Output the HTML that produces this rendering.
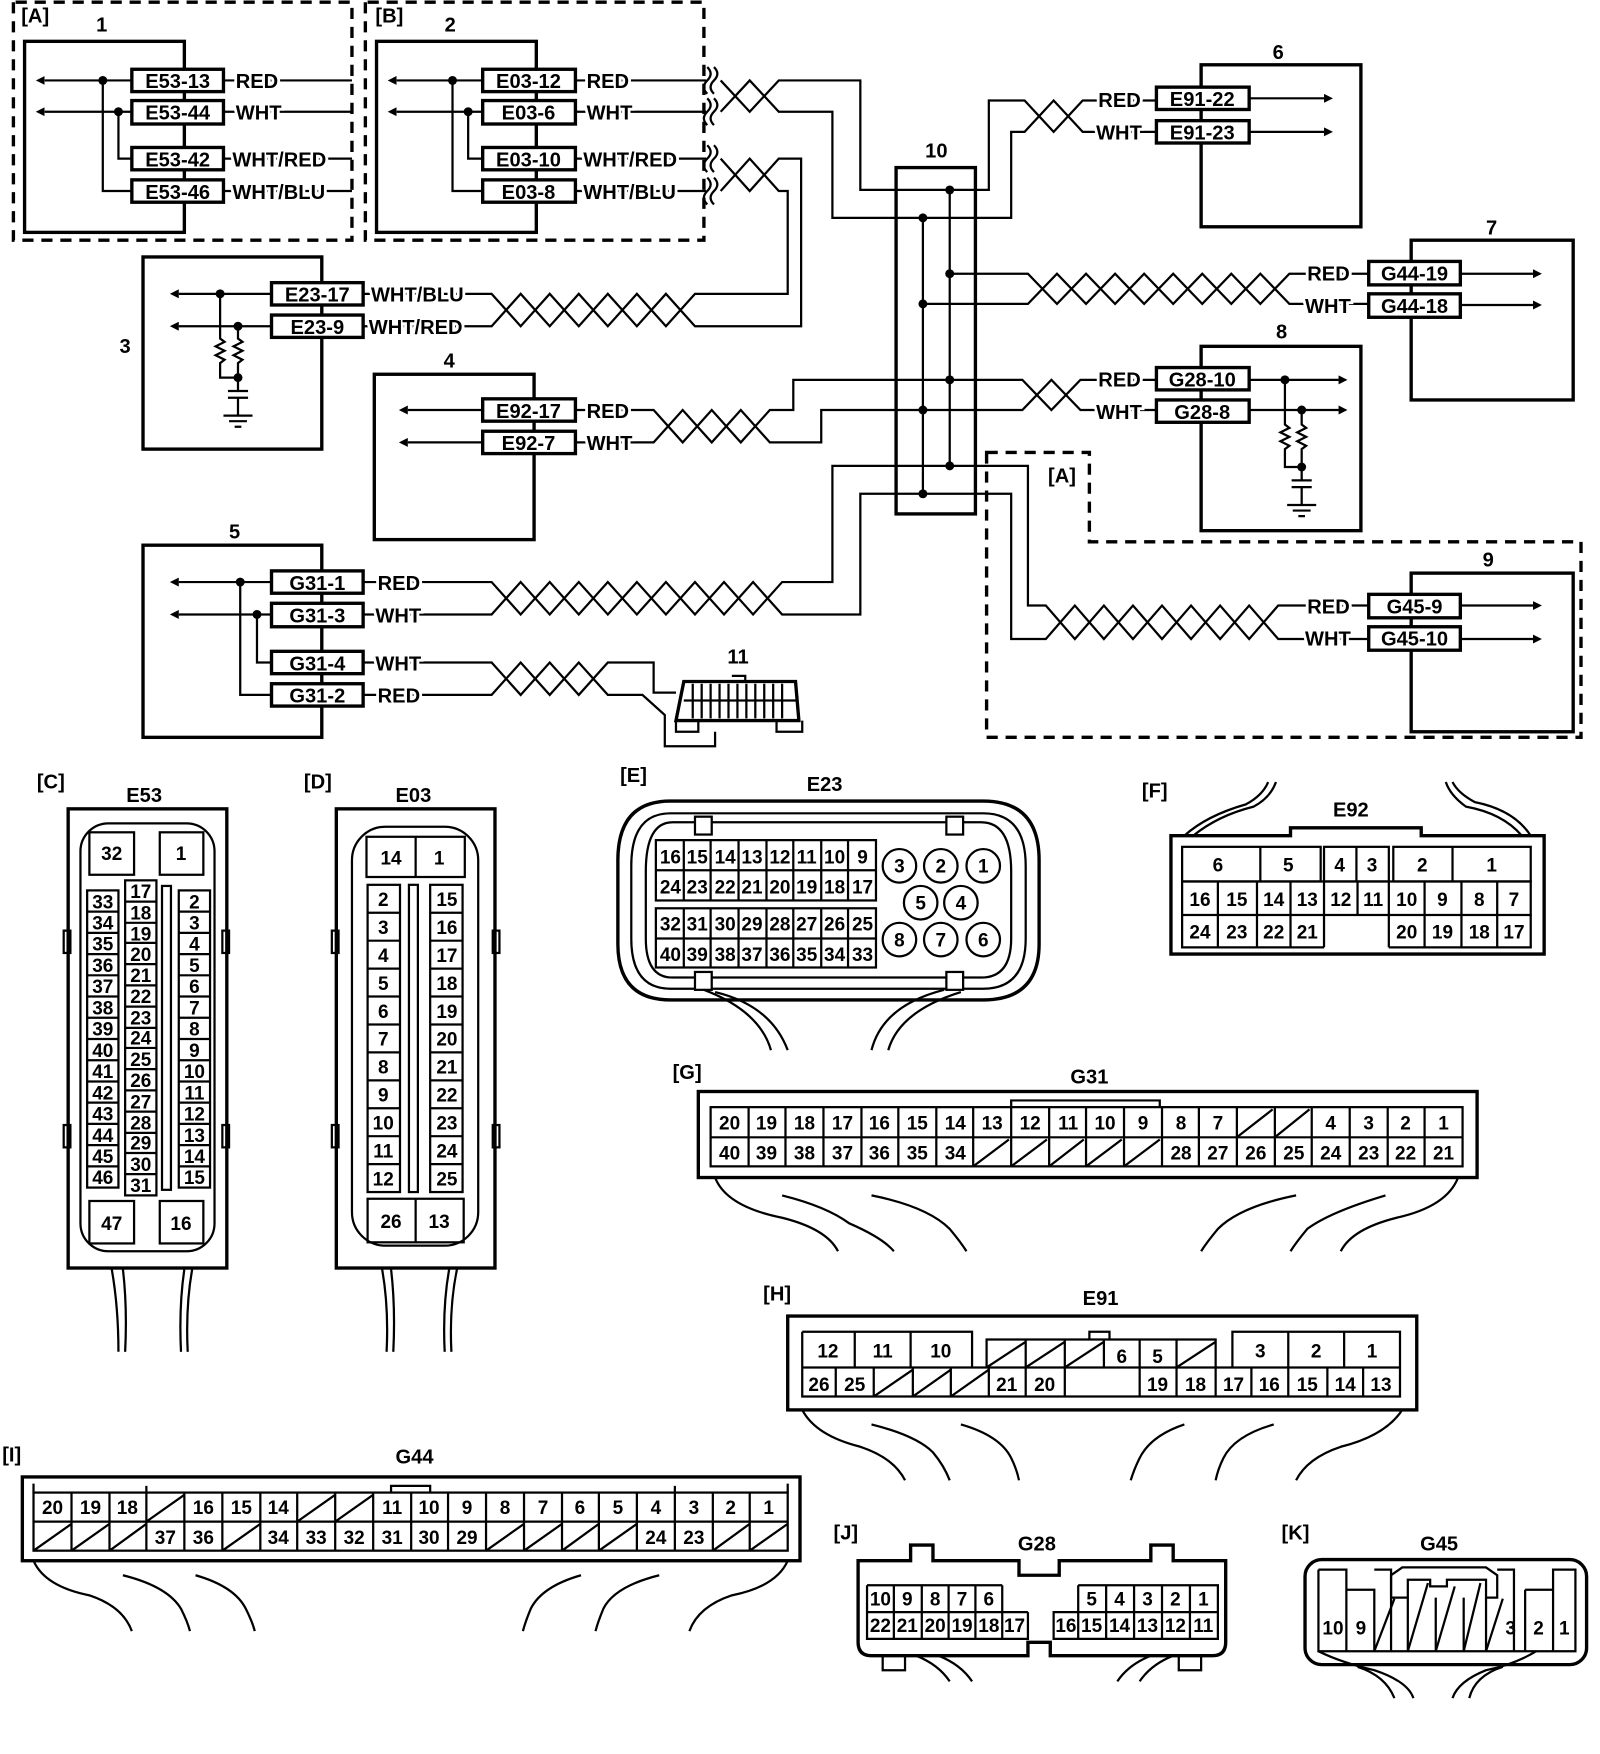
<!DOCTYPE html>
<html><head><meta charset="utf-8"><style>
html,body{margin:0;padding:0;background:#fff}
svg{display:block}
text{font-family:"Liberation Sans",sans-serif;font-weight:bold;fill:#000}
.w{stroke:#fff;stroke-width:5;paint-order:stroke}
</style></head><body>
<svg width="1600" height="1754" viewBox="0 0 1432 1570" preserveAspectRatio="none" xmlns="http://www.w3.org/2000/svg">
<defs>
<marker id="ar" viewBox="0 0 10 10" refX="0" refY="5" markerWidth="4" markerHeight="4" orient="auto-start-reverse"><path d="M0,0 L10,5 L0,10z"/></marker>
</defs>
<g fill="none" stroke="#000" stroke-width="2">
<!-- dashed groups -->
<path d="M12,2 V215 H315 V2 H12" stroke-width="3" stroke-dasharray="10,7"/>
<path d="M327,2 V215 H630 V2 H327" stroke-width="3" stroke-dasharray="10,7"/>
<path d="M883,405 H975 V485 H1415 V660 H883 Z" stroke-width="3" stroke-dasharray="10,7"/>
<!-- boxes -->
<rect x="22" y="37" width="143" height="171" stroke-width="3"/>
<rect x="337" y="37" width="143" height="171" stroke-width="3"/>
<rect x="128" y="230" width="160" height="172" stroke-width="3"/>
<rect x="335" y="335" width="143" height="148" stroke-width="3"/>
<rect x="128" y="488" width="160" height="172" stroke-width="3"/>
<rect x="802" y="150" width="71" height="310" stroke-width="3"/>
<rect x="1075" y="58" width="143" height="145" stroke-width="3"/>
<rect x="1263" y="215" width="145" height="143" stroke-width="3"/>
<rect x="1075" y="310" width="143" height="165" stroke-width="3"/>
<rect x="1263" y="513" width="145" height="142" stroke-width="3"/>
<!-- box1 internals -->
<path d="M118,72 H40" marker-end="url(#ar)"/><path d="M118,100 H40" marker-end="url(#ar)"/>
<path d="M92,72 V171 H118 M106,100 V142 H118"/>
<path d="M200,72 H315 M200,100 H315 M200,142 H315 M200,171 H315"/>
<!-- box2 internals -->
<path d="M432,72 H355" marker-end="url(#ar)"/><path d="M432,100 H355" marker-end="url(#ar)"/>
<path d="M405,72 V171 H432 M419,100 V142 H432"/>
<path d="M515,72 H632 M515,100 H632 M515,142 H632 M515,171 H632"/>
<path d="M633,60 q6,6 0,12 q-6,6 0,12 M639,60 q6,6 0,12 q-6,6 0,12 M633,88 q6,6 0,12 q-6,6 0,12 M639,88 q6,6 0,12 q-6,6 0,12 M633,130 q6,6 0,12 q-6,6 0,12 M639,130 q6,6 0,12 q-6,6 0,12 M633,159 q6,6 0,12 q-6,6 0,12 M639,159 q6,6 0,12 q-6,6 0,12"/>
<polyline points="645,72 671,100 697,72 770,72 770,170 873,170 885,170 885,90 917,90 943,118 969,90 1035,90"/>
<polyline points="645,100 671,72 697,100 745,100 745,195 873,195 905,195 905,118 917,118 943,90 969,118 1035,118"/>
<polyline points="645,142 671,171 697,142 717,142 717,292 622,292 596,263 570,292 544,263 518,292 492,263 466,292 440,263 325,263"/>
<polyline points="645,171 671,142 697,171 705,171 705,263 622,263 596,292 570,263 544,292 518,263 492,292 466,263 440,292 325,292"/>
<!-- box3 internals -->
<path d="M243,263 H160" marker-end="url(#ar)"/><path d="M243,292 H160" marker-end="url(#ar)"/>
<path d="M197,263 V303 l4,3 -8,4 8,4 -8,4 8,4 -4,3 V338 H213 M213,292 V303 l4,3 -8,4 8,4 -8,4 8,4 -4,3 V350 M204,350 H222 M204,356 H222 M213,356 V372 M200,372 H226 M205,377 H221 M210,382 H216"/>
<!-- box4 -->
<path d="M432,367 H365" marker-end="url(#ar)"/><path d="M432,396 H365" marker-end="url(#ar)"/>
<polyline points="515,367 585,367 611,396 637,367 663,396 689,367 710,367 710,340 873,340 915,340 941,367 967,340 1035,340"/>
<polyline points="515,396 585,396 611,367 637,396 663,367 689,396 735,396 735,367 873,367 915,367 941,340 967,367 1035,367"/>
<!-- box5 -->
<path d="M243,521 H160" marker-end="url(#ar)"/><path d="M243,550 H160" marker-end="url(#ar)"/>
<path d="M215,521 V622 H243 M230,550 V593 H243"/>
<polyline points="325,521 440,521 466,550 492,521 518,550 544,521 570,550 596,521 622,550 648,521 674,550 700,521 745,521 745,417 873,417 920,417 920,542 936,542 962,572 988,542 1014,572 1040,542 1066,572 1092,542 1118,572 1144,542 1225,542"/>
<polyline points="325,550 440,550 466,521 492,550 518,521 544,550 570,521 596,550 622,521 648,550 674,521 700,550 770,550 770,442 873,442 905,442 905,572 936,572 962,542 988,572 1014,542 1040,572 1066,542 1092,572 1118,542 1144,572 1225,572"/>
<polyline points="325,593 440,593 466,622 492,593 518,622 544,593 585,593 585,620 605,620"/>
<polyline points="325,622 440,622 466,593 492,622 518,593 544,622 575,622 595,640 595,668 640,668 640,655"/>
<!-- box10 bus -->
<path d="M850,170 V417 M826,195 V442"/>
<polyline points="873,245 920,245 946,272 972,245 998,272 1024,245 1050,272 1076,245 1102,272 1128,245 1154,272 1225,272"/>
<polyline points="873,272 920,272 946,245 972,272 998,245 1024,272 1050,245 1076,272 1102,245 1128,272 1154,245 1225,245"/>
<path d="M826,272 H873 M850,245 H873"/>
<!-- right arrows -->
<path d="M1118,88 H1185" marker-end="url(#ar)"/><path d="M1118,118 H1185" marker-end="url(#ar)"/>
<path d="M1307,245 H1372" marker-end="url(#ar)"/><path d="M1307,273 H1372" marker-end="url(#ar)"/>
<path d="M1118,340 H1198" marker-end="url(#ar)"/><path d="M1118,367 H1198" marker-end="url(#ar)"/>
<path d="M1307,542 H1372" marker-end="url(#ar)"/><path d="M1307,572 H1372" marker-end="url(#ar)"/>
<path d="M1150,340 V380 l4,3 -8,4 8,4 -8,4 8,4 -4,3 V418 H1165 M1165,367 V380 l4,3 -8,4 8,4 -8,4 8,4 -4,3 V430 M1156,430 H1174 M1156,436 H1174 M1165,436 V452 M1152,452 H1178 M1157,457 H1173 M1162,462 H1168"/>
<!-- connector 11 -->
<path d="M612,610 H712 L715,645 H605 Z" stroke-width="3"/>
<path d="M620,612 V643 M628,612 V643 M636,612 V643 M644,612 V643 M652,612 V643 M660,612 V643 M668,612 V643 M676,612 V643 M684,612 V643 M692,612 V643 M700,612 V643 M612,627 H712 M655,605 H667 V610 M605,645 V655 H625 V645 M695,645 V655 H718 V645"/>
</g>
<!-- dots -->
<g>
<circle cx="92" cy="72" r="4"/><circle cx="106" cy="100" r="4"/>
<circle cx="405" cy="72" r="4"/><circle cx="419" cy="100" r="4"/>
<circle cx="197" cy="263" r="4"/><circle cx="213" cy="292" r="4"/><circle cx="213" cy="338" r="4"/>
<circle cx="215" cy="521" r="4"/><circle cx="230" cy="550" r="4"/>
<circle cx="850" cy="170" r="4"/><circle cx="826" cy="195" r="4"/><circle cx="850" cy="245" r="4"/><circle cx="826" cy="272" r="4"/>
<circle cx="850" cy="340" r="4"/><circle cx="826" cy="367" r="4"/><circle cx="850" cy="417" r="4"/><circle cx="826" cy="442" r="4"/>
<circle cx="1150" cy="340" r="4"/><circle cx="1165" cy="367" r="4"/><circle cx="1165" cy="418" r="4"/>
</g>
<!-- connector label boxes -->
<g fill="#fff" stroke="#000" stroke-width="3">
<rect x="118" y="62" width="82" height="20"/><rect x="118" y="90" width="82" height="21"/><rect x="118" y="132" width="82" height="20"/><rect x="118" y="161" width="82" height="20"/>
<rect x="432" y="62" width="83" height="20"/><rect x="432" y="90" width="83" height="21"/><rect x="432" y="132" width="83" height="20"/><rect x="432" y="161" width="83" height="20"/>
<rect x="243" y="253" width="82" height="20"/><rect x="243" y="282" width="82" height="20"/>
<rect x="432" y="357" width="83" height="20"/><rect x="432" y="386" width="83" height="20"/>
<rect x="243" y="511" width="82" height="20"/><rect x="243" y="540" width="82" height="21"/><rect x="243" y="583" width="82" height="20"/><rect x="243" y="612" width="82" height="20"/>
<rect x="1035" y="78" width="83" height="20"/><rect x="1035" y="108" width="83" height="20"/>
<rect x="1225" y="234" width="82" height="21"/><rect x="1225" y="263" width="82" height="21"/>
<rect x="1035" y="329" width="83" height="20"/><rect x="1035" y="358" width="83" height="20"/>
<rect x="1225" y="532" width="82" height="21"/><rect x="1225" y="561" width="82" height="21"/>
</g>
<g font-size="18" text-anchor="middle">
<text x="159" y="79">E53-13</text><text x="159" y="107">E53-44</text><text x="159" y="149">E53-42</text><text x="159" y="178">E53-46</text>
<text x="473" y="79">E03-12</text><text x="473" y="107">E03-6</text><text x="473" y="149">E03-10</text><text x="473" y="178">E03-8</text>
<text x="284" y="270">E23-17</text><text x="284" y="299">E23-9</text>
<text x="473" y="374">E92-17</text><text x="473" y="403">E92-7</text>
<text x="284" y="528">G31-1</text><text x="284" y="557">G31-3</text><text x="284" y="600">G31-4</text><text x="284" y="629">G31-2</text>
<text x="1076" y="95">E91-22</text><text x="1076" y="125">E91-23</text>
<text x="1266" y="251">G44-19</text><text x="1266" y="280">G44-18</text>
<text x="1076" y="346">G28-10</text><text x="1076" y="375">G28-8</text>
<text x="1266" y="549">G45-9</text><text x="1266" y="578">G45-10</text>
</g>
<g font-size="18" class="w">
<text x="211" y="79" class="w">RED</text><text x="211" y="107" class="w">WHT</text><text x="208" y="149" class="w">WHT/RED</text><text x="208" y="178" class="w">WHT/BLU</text>
<text x="525" y="79" class="w">RED</text><text x="525" y="107" class="w">WHT</text><text x="522" y="149" class="w">WHT/RED</text><text x="522" y="178" class="w">WHT/BLU</text>
<text x="332" y="270" class="w">WHT/BLU</text><text x="330" y="299" class="w">WHT/RED</text>
<text x="525" y="374" class="w">RED</text><text x="525" y="403" class="w">WHT</text>
<text x="338" y="528" class="w">RED</text><text x="336" y="557" class="w">WHT</text><text x="336" y="600" class="w">WHT</text><text x="338" y="629" class="w">RED</text>
<text x="983" y="96" class="w">RED</text><text x="981" y="125" class="w">WHT</text>
<text x="1170" y="251" class="w">RED</text><text x="1168" y="280" class="w">WHT</text>
<text x="983" y="346" class="w">RED</text><text x="981" y="375" class="w">WHT</text>
<text x="1170" y="549" class="w">RED</text><text x="1168" y="578" class="w">WHT</text>
</g>
<g font-size="18">
<text x="19" y="20">[A]</text><text x="86" y="28">1</text>
<text x="336" y="20">[B]</text><text x="398" y="28">2</text>
<text x="107" y="316">3</text><text x="397" y="329">4</text><text x="205" y="482">5</text>
<text x="1139" y="53">6</text><text x="1330" y="210">7</text><text x="1142" y="303">8</text><text x="1327" y="507">9</text>
<text x="828" y="141">10</text><text x="651" y="594">11</text>
<text x="938" y="432">[A]</text>
</g>

<!-- ======= lower connectors ======= -->
<g font-size="18">
<text x="33" y="706">[C]</text><text x="113" y="718">E53</text>
<text x="272" y="706">[D]</text><text x="354" y="718">E03</text>
<text x="555" y="700">[E]</text><text x="722" y="708">E23</text>
<text x="1022" y="714">[F]</text><text x="1193" y="731">E92</text>
<text x="602" y="966">[G]</text><text x="958" y="970">G31</text>
<text x="683" y="1164">[H]</text><text x="969" y="1168">E91</text>
<text x="2" y="1308">[I]</text><text x="354" y="1310">G44</text>
<text x="746" y="1378">[J]</text><text x="911" y="1388">G28</text>
<text x="1147" y="1378">[K]</text><text x="1271" y="1388">G45</text>
</g>
<g fill="none" stroke="#000" stroke-width="2">
<!-- E53 -->
<rect x="61" y="724" width="142" height="411" stroke-width="3"/>
<rect x="72" y="737" width="120" height="383" rx="25"/>
<rect x="80" y="745" width="40" height="38"/><rect x="143" y="745" width="39" height="38"/>
<rect x="80" y="1075" width="40" height="38"/><rect x="143" y="1075" width="39" height="38"/>
<rect x="57" y="833" width="6" height="20"/><rect x="57" y="1007" width="6" height="20"/><rect x="199" y="833" width="6" height="20"/><rect x="199" y="1007" width="6" height="20"/>
<rect x="78" y="797" width="28" height="266"/><rect x="112" y="788" width="28" height="282"/><rect x="145" y="793" width="8" height="272"/><rect x="160" y="797" width="28" height="266"/>
<path d="M78,816 H106 M78,835 H106 M78,854 H106 M78,873 H106 M78,892 H106 M78,911 H106 M78,930 H106 M78,949 H106 M78,968 H106 M78,987 H106 M78,1006 H106 M78,1025 H106 M78,1044 H106"/>
<path d="M160,816 H188 M160,835 H188 M160,854 H188 M160,873 H188 M160,892 H188 M160,911 H188 M160,930 H188 M160,949 H188 M160,968 H188 M160,987 H188 M160,1006 H188 M160,1025 H188 M160,1044 H188"/>
<path d="M112,807 H140 M112,826 H140 M112,844 H140 M112,863 H140 M112,882 H140 M112,901 H140 M112,920 H140 M112,938 H140 M112,957 H140 M112,976 H140 M112,995 H140 M112,1014 H140 M112,1032 H140 M112,1051 H140"/>
<path d="M100,1136 Q106,1170 106,1210 M110,1136 Q114,1170 112,1210 M165,1136 Q160,1170 162,1210 M172,1136 Q166,1170 168,1210"/>
<!-- E03 -->
<rect x="301" y="724" width="142" height="411" stroke-width="3"/>
<rect x="315" y="740" width="113" height="375" rx="30"/>
<rect x="328" y="749" width="88" height="36"/><path d="M372,749 V785"/>
<rect x="329" y="1073" width="86" height="39"/><path d="M372,1073 V1112"/>
<rect x="297" y="833" width="6" height="20"/><rect x="297" y="1007" width="6" height="20"/><rect x="441" y="833" width="6" height="20"/><rect x="441" y="1007" width="6" height="20"/>
<rect x="329" y="792" width="29" height="275"/><rect x="366" y="792" width="8" height="275"/><rect x="385" y="792" width="29" height="275"/>
<path d="M329,817 H358 M329,842 H358 M329,867 H358 M329,892 H358 M329,917 H358 M329,942 H358 M329,967 H358 M329,992 H358 M329,1017 H358 M329,1042 H358"/>
<path d="M385,817 H414 M385,842 H414 M385,867 H414 M385,892 H414 M385,917 H414 M385,942 H414 M385,967 H414 M385,992 H414 M385,1017 H414 M385,1042 H414"/>
<path d="M342,1136 Q348,1170 346,1210 M350,1136 Q354,1170 352,1210 M402,1136 Q396,1170 398,1210 M409,1136 Q402,1170 404,1210"/>
<!-- E23 -->
<path d="M600,717 H880 Q930,717 930,770 V845 Q930,895 880,895 H600 Q553,895 553,845 V770 Q553,717 600,717 Z" stroke-width="3"/>
<path d="M600,728 H880 Q918,728 918,775 V840 Q918,885 880,885 H600 Q565,885 565,840 V775 Q565,728 600,728 Z"/>
<path d="M602,736 H878 Q905,736 905,780 V840 Q905,875 878,875 H602 Q578,875 578,840 V780 Q578,736 602,736 Z"/>
<rect x="587" y="752" width="197" height="54"/><rect x="587" y="813" width="197" height="53"/>
<path d="M587,779 H784 M587,840 H784 M612,752 V806 M636,752 V806 M661,752 V806 M686,752 V806 M710,752 V806 M735,752 V806 M759,752 V806 M612,813 V866 M636,813 V866 M661,813 V866 M686,813 V866 M710,813 V866 M735,813 V866 M759,813 V866"/>
<circle cx="805" cy="775" r="15"/><circle cx="842" cy="775" r="15"/><circle cx="880" cy="775" r="15"/><circle cx="824" cy="808" r="15"/><circle cx="860" cy="808" r="15"/><circle cx="805" cy="841" r="15"/><circle cx="842" cy="841" r="15"/><circle cx="880" cy="841" r="15"/>
<rect x="622" y="731" width="15" height="16" fill="#fff"/><rect x="847" y="731" width="15" height="16" fill="#fff"/><rect x="622" y="870" width="15" height="16" fill="#fff"/><rect x="847" y="870" width="15" height="16" fill="#fff"/>
<path d="M630,886 Q680,905 690,940 M640,888 Q690,900 705,940 M845,886 Q790,900 780,940 M860,888 Q805,905 795,940"/>
<!-- E92 -->
<path d="M1048,748 H1155 V741 H1272 V748 H1382 V854 H1048 Z" stroke-width="3"/>
<rect x="1058" y="758" width="124" height="31"/><path d="M1128,758 V789"/>
<rect x="1185" y="758" width="58" height="31"/><path d="M1214,758 V789"/>
<rect x="1247" y="758" width="123" height="31"/><path d="M1300,758 V789"/>
<rect x="1058" y="789" width="312" height="30"/>
<path d="M1090,789 V848 M1125,789 V848 M1155,789 V848 M1185,789 V848 M1215,789 V819 M1243,789 V848 M1275,789 V848 M1308,789 V848 M1340,789 V848 M1058,819 V848 H1185 M1243,848 H1370 V819"/>
<path d="M1060,748 Q1080,730 1115,720 Q1130,712 1135,700 M1068,748 Q1090,730 1122,722 Q1137,714 1142,700 M1370,748 Q1355,725 1320,718 Q1305,710 1300,700 M1362,748 Q1345,728 1312,722 Q1298,712 1294,700"/>
<!-- G31 -->
<rect x="625" y="977" width="697" height="77" stroke-width="3"/>
<rect x="636" y="991" width="673" height="53"/>
<path d="M636,1018 H1309 M905,991 V985 H1038 V991"/>
<path d="M670,991 V1044 M703,991 V1044 M737,991 V1044 M771,991 V1044 M804,991 V1044 M838,991 V1044 M871,991 V1044 M905,991 V1044 M939,991 V1044 M972,991 V1044 M1006,991 V1044 M1040,991 V1044 M1073,991 V1044 M1107,991 V1044 M1141,991 V1044 M1174,991 V1044 M1208,991 V1044 M1242,991 V1044 M1275,991 V1044"/>
<path d="M1107,1018 L1139,993 M1141,1018 L1172,993 M871,1044 L903,1020 M905,1044 L937,1020 M939,1044 L970,1020 M972,1044 L1004,1020 M1006,1044 L1038,1020"/>
<path d="M640,1054 Q650,1080 700,1090 Q740,1100 750,1120 M700,1070 Q740,1080 760,1095 Q790,1108 800,1120 M780,1070 Q830,1080 850,1100 Q860,1112 865,1120 M1160,1070 Q1110,1080 1090,1100 Q1080,1112 1075,1120 M1240,1070 Q1190,1085 1170,1100 Q1160,1112 1155,1120 M1305,1054 Q1295,1080 1250,1090 Q1210,1100 1200,1120"/>
<!-- E91 -->
<rect x="705" y="1178" width="563" height="84" stroke-width="3"/>
<path d="M718,1192 H870 V1224 M718,1192 V1250 H1253 V1192 H1103 V1224 M765,1192 V1224 M815,1192 V1224 M718,1224 H1253 M883,1224 V1199 H1088 V1224 M918,1199 V1250 M953,1199 V1250 M988,1199 V1224 M1020,1199 V1250 M1053,1199 V1250 M1088,1224 V1250 M1120,1224 V1250 M1153,1192 V1250 M1188,1224 V1250 M1203,1192 V1224 M1220,1224 V1250 M748,1224 V1250 M782,1224 V1250 M817,1224 V1250 M851,1224 V1250 M885,1224 V1250 M975,1199 V1192 H993 V1199"/>
<path d="M883,1224 L918,1201 M918,1224 L953,1201 M953,1224 L988,1201 M1053,1224 L1088,1201 M782,1250 L817,1226 M817,1250 L851,1226 M851,1250 L885,1226"/>
<path d="M718,1262 Q730,1285 770,1295 Q800,1305 810,1325 M780,1275 Q820,1285 835,1300 Q845,1312 850,1325 M860,1275 Q895,1285 905,1305 Q910,1315 912,1325 M1060,1275 Q1030,1285 1020,1305 Q1015,1315 1012,1325 M1140,1275 Q1105,1285 1095,1305 Q1090,1315 1088,1325 M1255,1262 Q1240,1285 1200,1295 Q1170,1305 1160,1325"/>
<!-- G44 -->
<rect x="20" y="1322" width="696" height="75" stroke-width="3"/>
<rect x="30" y="1336" width="675" height="52"/>
<path d="M30,1362 H705 M64,1336 V1388 M98,1336 V1388 M131,1336 V1388 M165,1336 V1388 M199,1336 V1388 M233,1336 V1388 M266,1336 V1388 M300,1336 V1388 M334,1336 V1388 M368,1336 V1388 M401,1336 V1388 M435,1336 V1388 M469,1336 V1388 M503,1336 V1388 M536,1336 V1388 M570,1336 V1388 M604,1336 V1388 M638,1336 V1388 M671,1336 V1388"/>
<path d="M131,1362 L165,1338 M266,1362 L300,1338 M300,1362 L334,1338 M30,1388 L64,1364 M64,1388 L98,1364 M98,1388 L131,1364 M199,1388 L233,1364 M435,1388 L469,1364 M469,1388 L503,1364 M503,1388 L536,1364 M536,1388 L570,1364 M638,1388 L671,1364 M671,1388 L705,1364"/>
<path d="M350,1336 V1330 H385 V1336 M30,1336 V1328 M131,1336 V1330 M604,1336 V1330 M705,1336 V1328"/>
<path d="M30,1397 Q40,1420 80,1428 Q110,1438 118,1460 M110,1410 Q150,1420 162,1440 Q168,1452 170,1460 M175,1410 Q210,1420 220,1440 Q226,1452 228,1460 M520,1410 Q485,1420 475,1440 Q470,1452 468,1460 M590,1410 Q550,1420 540,1440 Q535,1452 533,1460 M705,1397 Q695,1420 655,1428 Q625,1438 617,1460"/>
<!-- G28 -->
<path d="M768,1397 H815 V1383 H835 V1397 H912 V1410 H948 V1397 H1030 V1383 H1050 V1397 H1097 V1470 Q1097,1482 1085,1482 H940 V1470 H920 V1482 H780 Q768,1482 768,1470 Z" stroke-width="3"/>
<path d="M776,1419 H897 M776,1419 V1467 H920 V1443 M776,1443 H920 M800,1419 V1467 M825,1419 V1467 M849,1419 V1467 M873,1419 V1467 M897,1419 V1467"/>
<path d="M965,1419 H1090 V1467 H943 V1443 H1090 M965,1419 V1467 M990,1419 V1467 M1015,1419 V1467 M1040,1419 V1467 M1065,1419 V1467"/>
<path d="M790,1482 V1495 H810 V1482 M1055,1482 V1495 H1075 V1482"/>
<path d="M820,1482 Q840,1490 850,1505 M840,1482 Q860,1490 870,1505 M1030,1482 Q1010,1490 1000,1505 M1050,1482 Q1030,1490 1020,1505"/>
<!-- G45 -->
<rect x="1168" y="1396" width="252" height="94" rx="15" stroke-width="3"/>
<path d="M1180,1405 H1205 V1478 M1180,1405 V1478 H1410 V1405 H1390 V1478 M1205,1423 H1230 V1478 M1365,1423 H1390 M1365,1423 V1478 M1340,1405 H1355 V1478 M1230,1405 H1245 V1478"/>
<path d="M1245,1430 V1410 L1255,1403 H1330 L1340,1410 V1430 H1330 V1414 H1295 V1420 H1280 V1414 H1260 V1430 Z"/>
<path d="M1260,1430 V1478 M1285,1430 V1478 M1310,1430 V1478 M1330,1430 V1478"/>
<path d="M1230,1478 L1248,1431 M1260,1478 L1278,1417 M1285,1478 L1302,1420 M1310,1478 L1325,1417 M1330,1478 L1345,1431"/>
<path d="M1180,1478 Q1200,1488 1230,1495 Q1260,1505 1265,1520 M1215,1492 Q1240,1500 1248,1520 M1375,1478 Q1355,1490 1330,1495 Q1305,1505 1300,1520 M1345,1492 Q1320,1500 1315,1520"/>
</g>
<!-- pin numbers -->
<g font-size="17" text-anchor="middle">
<text x="100" y="770">32</text><text x="162" y="770">1</text><text x="100" y="1101">47</text><text x="162" y="1101">16</text>
<text x="92" y="813">33</text><text x="92" y="832">34</text><text x="92" y="851">35</text><text x="92" y="870">36</text><text x="92" y="889">37</text><text x="92" y="908">38</text><text x="92" y="927">39</text><text x="92" y="946">40</text><text x="92" y="965">41</text><text x="92" y="984">42</text><text x="92" y="1003">43</text><text x="92" y="1022">44</text><text x="92" y="1041">45</text><text x="92" y="1060">46</text>
<text x="126" y="804">17</text><text x="126" y="823">18</text><text x="126" y="842">19</text><text x="126" y="860">20</text><text x="126" y="879">21</text><text x="126" y="898">22</text><text x="126" y="917">23</text><text x="126" y="935">24</text><text x="126" y="954">25</text><text x="126" y="973">26</text><text x="126" y="992">27</text><text x="126" y="1011">28</text><text x="126" y="1029">29</text><text x="126" y="1048">30</text><text x="126" y="1067">31</text>
<text x="174" y="813">2</text><text x="174" y="832">3</text><text x="174" y="851">4</text><text x="174" y="870">5</text><text x="174" y="889">6</text><text x="174" y="908">7</text><text x="174" y="927">8</text><text x="174" y="946">9</text><text x="174" y="965">10</text><text x="174" y="984">11</text><text x="174" y="1003">12</text><text x="174" y="1022">13</text><text x="174" y="1041">14</text><text x="174" y="1060">15</text>
<text x="350" y="774">14</text><text x="393" y="774">1</text><text x="350" y="1099">26</text><text x="393" y="1099">13</text>
<text x="343" y="811">2</text><text x="343" y="836">3</text><text x="343" y="861">4</text><text x="343" y="886">5</text><text x="343" y="911">6</text><text x="343" y="936">7</text><text x="343" y="961">8</text><text x="343" y="986">9</text><text x="343" y="1011">10</text><text x="343" y="1036">11</text><text x="343" y="1061">12</text>
<text x="400" y="811">15</text><text x="400" y="836">16</text><text x="400" y="861">17</text><text x="400" y="886">18</text><text x="400" y="911">19</text><text x="400" y="936">20</text><text x="400" y="961">21</text><text x="400" y="986">22</text><text x="400" y="1011">23</text><text x="400" y="1036">24</text><text x="400" y="1061">25</text>
<g textLength="22">
<text x="600" y="773">16</text><text x="624" y="773">15</text><text x="649" y="773">14</text><text x="673" y="773">13</text><text x="698" y="773">12</text><text x="722" y="773">11</text><text x="747" y="773">10</text><text x="772" y="773">9</text>
<text x="600" y="800">24</text><text x="624" y="800">23</text><text x="649" y="800">22</text><text x="673" y="800">21</text><text x="698" y="800">20</text><text x="722" y="800">19</text><text x="747" y="800">18</text><text x="772" y="800">17</text>
<text x="600" y="833">32</text><text x="624" y="833">31</text><text x="649" y="833">30</text><text x="673" y="833">29</text><text x="698" y="833">28</text><text x="722" y="833">27</text><text x="747" y="833">26</text><text x="772" y="833">25</text>
<text x="600" y="860">40</text><text x="624" y="860">39</text><text x="649" y="860">38</text><text x="673" y="860">37</text><text x="698" y="860">36</text><text x="722" y="860">35</text><text x="747" y="860">34</text><text x="772" y="860">33</text>
</g>
<text x="805" y="781">3</text><text x="842" y="781">2</text><text x="880" y="781">1</text><text x="824" y="814">5</text><text x="860" y="814">4</text><text x="805" y="847">8</text><text x="842" y="847">7</text><text x="880" y="847">6</text>
<text x="1090" y="780">6</text><text x="1153" y="780">5</text><text x="1199" y="780">4</text><text x="1228" y="780">3</text><text x="1273" y="780">2</text><text x="1335" y="780">1</text>
<text x="1074" y="811">16</text><text x="1107" y="811">15</text><text x="1140" y="811">14</text><text x="1170" y="811">13</text><text x="1200" y="811">12</text><text x="1229" y="811">11</text><text x="1259" y="811">10</text><text x="1291" y="811">9</text><text x="1324" y="811">8</text><text x="1355" y="811">7</text>
<text x="1074" y="840">24</text><text x="1107" y="840">23</text><text x="1140" y="840">22</text><text x="1170" y="840">21</text><text x="1259" y="840">20</text><text x="1291" y="840">19</text><text x="1324" y="840">18</text><text x="1355" y="840">17</text>
<text x="653" y="1011">20</text><text x="686" y="1011">19</text><text x="720" y="1011">18</text><text x="754" y="1011">17</text><text x="787" y="1011">16</text><text x="821" y="1011">15</text><text x="855" y="1011">14</text><text x="888" y="1011">13</text><text x="922" y="1011">12</text><text x="956" y="1011">11</text><text x="989" y="1011">10</text><text x="1023" y="1011">9</text><text x="1057" y="1011">8</text><text x="1090" y="1011">7</text><text x="1191" y="1011">4</text><text x="1225" y="1011">3</text><text x="1258" y="1011">2</text><text x="1292" y="1011">1</text>
<text x="653" y="1038">40</text><text x="686" y="1038">39</text><text x="720" y="1038">38</text><text x="754" y="1038">37</text><text x="787" y="1038">36</text><text x="821" y="1038">35</text><text x="855" y="1038">34</text><text x="1057" y="1038">28</text><text x="1090" y="1038">27</text><text x="1124" y="1038">26</text><text x="1158" y="1038">25</text><text x="1191" y="1038">24</text><text x="1225" y="1038">23</text><text x="1258" y="1038">22</text><text x="1292" y="1038">21</text>
<text x="741" y="1215">12</text><text x="790" y="1215">11</text><text x="842" y="1215">10</text><text x="1004" y="1220">6</text><text x="1036" y="1220">5</text><text x="1128" y="1215">3</text><text x="1178" y="1215">2</text><text x="1228" y="1215">1</text>
<text x="733" y="1245">26</text><text x="765" y="1245">25</text><text x="901" y="1245">21</text><text x="935" y="1245">20</text><text x="1036" y="1245">19</text><text x="1070" y="1245">18</text><text x="1104" y="1245">17</text><text x="1136" y="1245">16</text><text x="1170" y="1245">15</text><text x="1204" y="1245">14</text><text x="1236" y="1245">13</text>
<text x="47" y="1355">20</text><text x="81" y="1355">19</text><text x="114" y="1355">18</text><text x="182" y="1355">16</text><text x="216" y="1355">15</text><text x="249" y="1355">14</text><text x="351" y="1355">11</text><text x="384" y="1355">10</text><text x="418" y="1355">9</text><text x="452" y="1355">8</text><text x="486" y="1355">7</text><text x="519" y="1355">6</text><text x="553" y="1355">5</text><text x="587" y="1355">4</text><text x="621" y="1355">3</text><text x="654" y="1355">2</text><text x="688" y="1355">1</text>
<text x="148" y="1382">37</text><text x="182" y="1382">36</text><text x="249" y="1382">34</text><text x="283" y="1382">33</text><text x="317" y="1382">32</text><text x="351" y="1382">31</text><text x="384" y="1382">30</text><text x="418" y="1382">29</text><text x="587" y="1382">24</text><text x="621" y="1382">23</text>
<text x="788" y="1437">10</text><text x="812" y="1437">9</text><text x="837" y="1437">8</text><text x="861" y="1437">7</text><text x="885" y="1437">6</text>
<text x="788" y="1461">22</text><text x="812" y="1461">21</text><text x="837" y="1461">20</text><text x="861" y="1461">19</text><text x="885" y="1461">18</text><text x="908" y="1461">17</text>
<text x="977" y="1437">5</text><text x="1002" y="1437">4</text><text x="1027" y="1437">3</text><text x="1052" y="1437">2</text><text x="1077" y="1437">1</text>
<text x="954" y="1461">16</text><text x="977" y="1461">15</text><text x="1002" y="1461">14</text><text x="1027" y="1461">13</text><text x="1052" y="1461">12</text><text x="1077" y="1461">11</text>
<text x="1193" y="1463">10</text><text x="1218" y="1463">9</text><text x="1352" y="1463">3</text><text x="1377" y="1463">2</text><text x="1400" y="1463">1</text>
</g>
</svg>
</body></html>
